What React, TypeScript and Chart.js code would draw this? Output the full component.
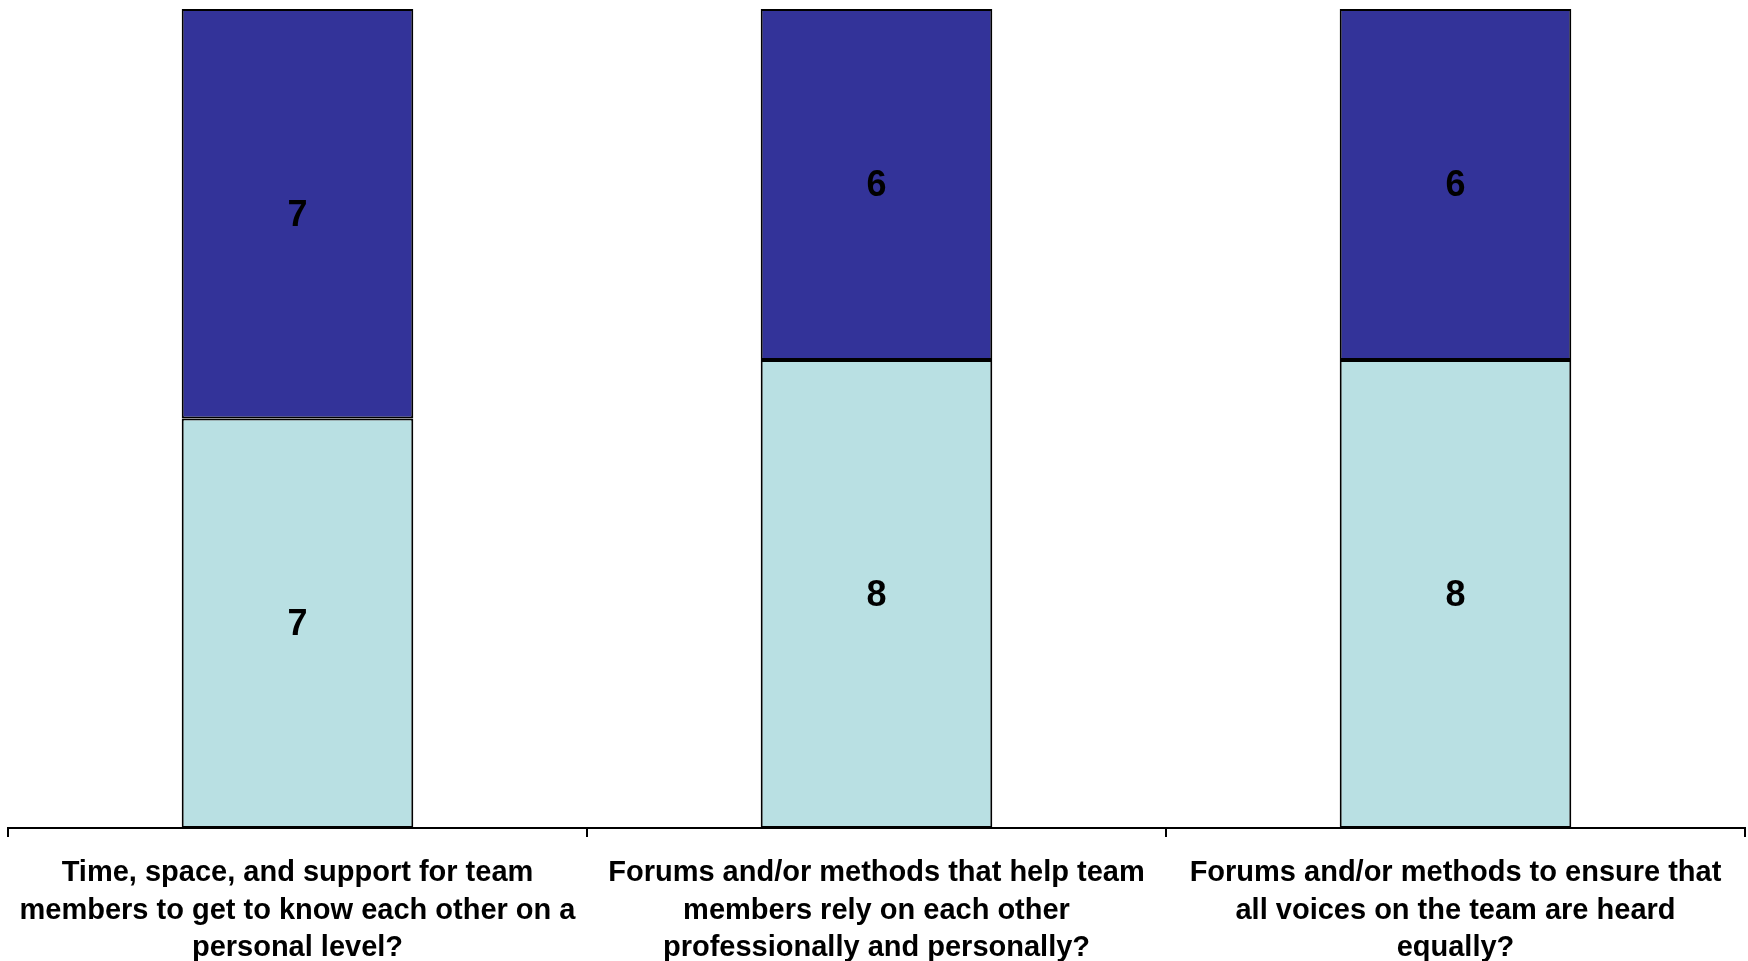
import React, { useEffect, useRef } from "react";
import { Chart, registerables } from "chart.js";

Chart.register(...registerables);

const categories: string[][] = [
  ["Time, space, and support for team", "members to get to know each other on a", "personal level?"],
  ["Forums and/or methods that help team", "members rely on each other", "professionally and personally?"],
  ["Forums and/or methods to ensure that", "all voices on the team are heard", "equally?"],
];
const lowerValues = [7, 8, 8];
const upperValues = [7, 6, 6];

const valueLabels = {
  id: "valueLabels",
  afterDatasetsDraw(chart: any) {
    const ctx = chart.ctx;
    ctx.save();
    ctx.fillStyle = "#000";
    ctx.font = "bold 36px 'Liberation Sans', Arial, sans-serif";
    ctx.textAlign = "center";
    ctx.textBaseline = "middle";
    chart.data.datasets.forEach((ds: any, di: number) => {
      const meta = chart.getDatasetMeta(di);
      meta.data.forEach((el: any, i: number) => {
        const p = el.getProps(["x", "y", "base"], true);
        ctx.fillText(String(ds.data[i]), p.x, (p.y + p.base) / 2 + 2);
      });
    });
    ctx.restore();
  },
};

const categoryLabels = {
  id: "categoryLabels",
  afterDraw(chart: any) {
    const ctx = chart.ctx;
    const xs = chart.scales.x;
    ctx.save();
    ctx.fillStyle = "#000";
    ctx.font = "bold 29px 'Liberation Sans', Arial, sans-serif";
    ctx.textAlign = "center";
    ctx.textBaseline = "alphabetic";
    (chart.data.labels as string[][]).forEach((lines, i) => {
      const x = xs.getPixelForValue(i);
      lines.forEach((line, j) => {
        const y = xs.top + 53 + j * 37.5;
        ctx.save();
        ctx.translate(x, y);
        ctx.scale(1.0, 1);
        ctx.fillText(line, 0, 0);
        ctx.restore();
      });
    });
    ctx.restore();
  },
};

export default function App() {
  const ref = useRef<HTMLCanvasElement | null>(null);
  useEffect(() => {
    document.body.style.margin = "0";
    const chart = new Chart(ref.current as HTMLCanvasElement, {
      type: "bar",
      data: {
        labels: categories as any,
        datasets: [
          {
            data: lowerValues,
            backgroundColor: "#B9E0E3",
            borderColor: "#000",
            borderWidth: 2,
            borderSkipped: false,
            barPercentage: 0.4,
            categoryPercentage: 1,
          },
          {
            data: upperValues,
            backgroundColor: "#333399",
            borderColor: "#000",
            borderWidth: 2,
            borderSkipped: false,
            barPercentage: 0.4,
            categoryPercentage: 1,
          },
        ],
      },
      options: {
        animation: false,
        responsive: false,
        maintainAspectRatio: false,
        layout: { padding: { top: 9, left: 8, right: 3, bottom: 0 } },
        plugins: { legend: { display: false }, tooltip: { enabled: false } },
        scales: {
          x: {
            stacked: true,
            border: { display: true, color: "#000", width: 2 },
            grid: {
              offset: true,
              drawOnChartArea: false,
              drawTicks: true,
              tickLength: 9,
              color: "#000",
              lineWidth: 2,
            },
            ticks: { display: false },
            afterFit(scale: any) {
              scale.height = 133;
            },
          },
          y: {
            stacked: true,
            display: false,
            min: 0,
            max: 14,
          },
        },
      },
      plugins: [valueLabels, categoryLabels],
    } as any);
    return () => chart.destroy();
  }, []);
  return (
    <div style={{ width: 1748, height: 961 }}>
      <canvas ref={ref} width={1748} height={961} style={{ display: "block" }} />
    </div>
  );
}
